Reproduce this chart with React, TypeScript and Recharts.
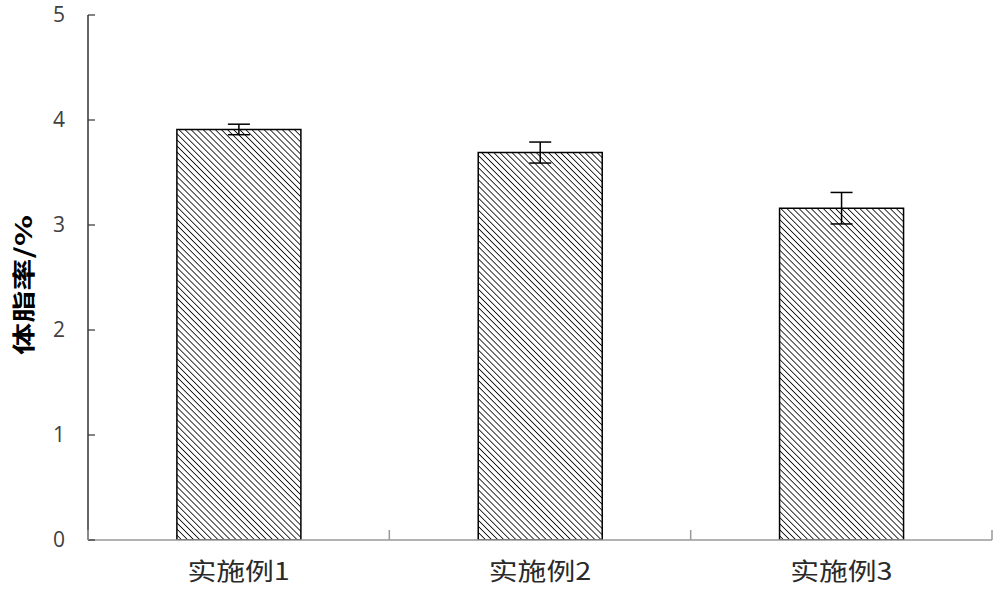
import { BarChart, Bar, XAxis, YAxis, ErrorBar, Label } from "recharts";

// 体脂率 by example
const categories = ["实施例1", "实施例2", "实施例3"];
const bodyFat = [3.91, 3.69, 3.16];
const bodyFatErr = [0.05, 0.1, 0.15];
const yTicks = [0, 1, 2, 3, 4, 5];

const data = categories.map((name, i) => ({ name, value: bodyFat[i], err: bodyFatErr[i] }));

const XTick = ({ x, y, payload, index }: any) => {
  const half = payload.offset || 0;
  return (
    <g>
      {index === 0 && <line x1={x - half} y1={y} x2={x - half} y2={y - 10} stroke="#999" strokeWidth={1.5} />}
      <line x1={x + half} y1={y} x2={x + half} y2={y - 10} stroke="#999" strokeWidth={1.5} />
      <text
        transform={`translate(${x},${y + 40}) scale(1.2,1)`}
        textAnchor="middle"
        fontSize={24}
        fill="#2a2a2a"
        fontFamily="'Noto Sans CJK SC', sans-serif"
      >
        {payload.value}
      </text>
    </g>
  );
};

export default function App() {
  return (
    <div style={{ position: "absolute", left: 0, top: 0, background: "#fff" }}>
      <BarChart
        width={1000}
        height={595}
        data={data}
        margin={{ top: 15, right: 8, bottom: 0, left: 0 }}
        barCategoryGap="29.5%"
      >
        <defs>
          <pattern id="hatch" patternUnits="userSpaceOnUse" width={4.3} height={4.3} patternTransform="rotate(-45)">
            <rect width={4.3} height={4.3} fill="#fff" />
            <line x1={0} y1={0} x2={0} y2={4.3} stroke="#000" strokeWidth={1.6} />
          </pattern>
        </defs>
        <XAxis
          dataKey="name"
          height={55}
          axisLine={{ stroke: "#999", strokeWidth: 1.5 }}
          tickLine={false}
          tickSize={0}
          tickMargin={0}
          tick={<XTick />}
          interval={0}
        />
        <YAxis
          width={88}
          domain={[0, 5]}
          ticks={yTicks}
          allowDataOverflow
          axisLine={{ stroke: "#333", strokeWidth: 1.5 }}
          tickLine={{ stroke: "#333", strokeWidth: 1.2 }}
          tickSize={-7}
          tickMargin={30}
          tick={{ fontSize: 21, fill: "#404040", fontFamily: "'Open Sans', sans-serif" }}
        >
          <Label
            content={() => (
              <text
                transform="translate(32,285) rotate(-90) scale(1.4,1)"
                textAnchor="middle"
                fontSize={23}
                fontWeight="bold"
                fill="#000"
                fontFamily="'Noto Sans CJK SC', sans-serif"
              >
                体脂率/%
              </text>
            )}
          />
        </YAxis>
        <Bar dataKey="value" fill="url(#hatch)" stroke="#000" strokeWidth={1.5} isAnimationActive={false}>
          <ErrorBar dataKey="err" width={11} stroke="#000" strokeWidth={1.5} />
        </Bar>
      </BarChart>
    </div>
  );
}
